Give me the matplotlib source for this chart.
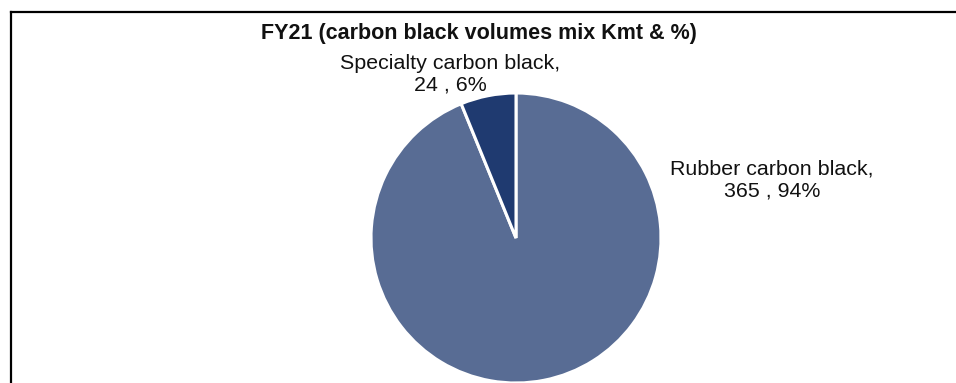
import matplotlib
matplotlib.use("Agg")
import matplotlib.pyplot as plt
from matplotlib.lines import Line2D

plt.rcParams['font.family'] = ['Liberation Sans', 'DejaVu Sans']

# Carbon black volume mix, FY21 (Kmt)
categories = ["Rubber carbon black", "Specialty carbon black"]
volumes = [365, 24]
shares = ["94%", "6%"]
colors = ["#586C94", "#1F3A70"]
title = "FY21 (carbon black volumes mix Kmt & %)"

W, H, DPI = 956, 383, 100
fig = plt.figure(figsize=(W / DPI, H / DPI), dpi=DPI)
ax = fig.add_axes([0, 0, 1, 1])

# pie centre / radius in pixels
cx, cy, r = 516, 238, 145
ax.pie(volumes, colors=colors, startangle=90, counterclock=False,
       radius=1.0, center=(0, 0),
       wedgeprops=dict(edgecolor="white", linewidth=2.2))
ax.set_xlim(-cx / r, (W - cx) / r)
ax.set_ylim(-(H - cy) / r, cy / r)
ax.set_aspect("auto")
ax.axis("off")

def px(x, y):
    return ((x - cx) / r, (cy - y) / r)

label_pos = {"Rubber carbon black": px(772, 180),
             "Specialty carbon black": px(450, 74)}
for cat, v, s in zip(categories, volumes, shares):
    x, y = label_pos[cat]
    ax.text(x, y, f"{cat},\n{v} , {s}", ha="center", va="center",
            fontsize=15.4, color="#111111", linespacing=1.2)

fig.text(479 / W, 1 - 33 / H, title, ha="center", va="center",
         fontsize=15.5, fontweight="bold", color="#111111")

# chart border (top and left edges)
fig.add_artist(Line2D([11 / W, 1.0], [1 - 12 / H, 1 - 12 / H],
                      transform=fig.transFigure, color="black", lw=1.6))
fig.add_artist(Line2D([11 / W, 11 / W], [0, 1 - 12 / H],
                      transform=fig.transFigure, color="black", lw=1.6))

fig.savefig("out.png", dpi=DPI)
